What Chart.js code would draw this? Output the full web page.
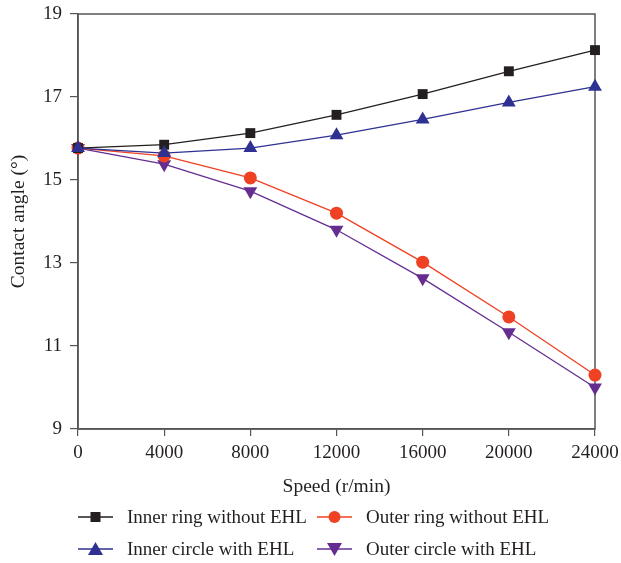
<!DOCTYPE html>
<html>
<head>
<meta charset="utf-8">
<script src="https://cdn.jsdelivr.net/npm/chart.js@4"></script>
<style>
  body { margin: 0; background: #fff; }
  #wrap { position: relative; width: 621px; height: 563px; }
  #legend {
    position: absolute; left: 78px; top: 501px; width: 540px;
    display: grid; grid-template-columns: 239px 300px; row-gap: 0px;
    font-family: "Liberation Serif", serif; font-size: 19px; color: #231f20;
  }
  .item { display: flex; align-items: center; height: 32px; white-space: nowrap; }
  .item svg { margin-right: 14px; flex: none; }
</style>
</head>
<body>
<div id="wrap">
  <canvas id="chart" width="621" height="563"></canvas>
  <div id="legend"></div>
</div>
<script>
// --- DATA ---
const speeds = [0, 4000, 8000, 12000, 16000, 20000, 24000];
const innerRingNoEHL = [15.77, 15.85, 16.13, 16.57, 17.07, 17.62, 18.13];
const outerRingNoEHL = [15.77, 15.58, 15.05, 14.2, 13.02, 11.7, 10.3];
const innerCircleEHL = [15.77, 15.65, 15.77, 16.08, 16.46, 16.87, 17.25];
const outerCircleEHL = [15.77, 15.38, 14.73, 13.8, 12.63, 11.33, 10.0];
const seriesNames = ['Inner ring without EHL', 'Outer ring without EHL', 'Inner circle with EHL', 'Outer circle with EHL'];
const xTicks = [0, 4000, 8000, 12000, 16000, 20000, 24000];
const yTicks = [9, 11, 13, 15, 17, 19];

const FONT = '"Liberation Serif", serif';
const TXT = '#231f20';

function pts(vals) { return speeds.map((s, i) => ({ x: s, y: vals[i] })); }

const styles = [
    { color: '#231f20', shape: 'rect', r: 7, rot: 0 },
    { color: '#ef4123', shape: 'circle', r: 6.5, rot: 0 },
    { color: '#2e3192', shape: 'triangle', r: 8, rot: 0 },
    { color: '#662d91', shape: 'triangle', r: 8, rot: 180 }
];
const allVals = [innerRingNoEHL, outerRingNoEHL, innerCircleEHL, outerCircleEHL];

const datasets = allVals.map((v, i) => ({
    label: seriesNames[i],
    data: pts(v),
    borderColor: styles[i].color,
    backgroundColor: styles[i].color,
    borderWidth: 1.3,
    pointStyle: styles[i].shape,
    pointRadius: styles[i].r,
    pointRotation: styles[i].rot,
    pointBorderWidth: 0,
    order: [2, 3, 1, 4][i],
    clip: false,
    tension: 0
}));

// frame around plot area
const boxPlugin = {
    id: 'box',
    beforeDatasetsDraw(chart) {
        const a = chart.chartArea, c = chart.ctx;
        c.save();
        c.strokeStyle = '#555';
        c.lineWidth = 1.5;
        c.strokeRect(a.left, a.top, a.right - a.left, a.bottom - a.top);
        c.restore();
    }
};

new Chart(document.getElementById('chart'), {
    type: 'line',
    data: { datasets: datasets },
    plugins: [boxPlugin],
    options: {
        responsive: false,
        animation: false,
        layout: { padding: { left: 4, right: 26, top: 14, bottom: 60 } },
        plugins: { legend: { display: false }, tooltip: { enabled: false } },
        scales: {
            x: {
                type: 'linear', min: 0, max: 24000,
                afterBuildTicks(s) { s.ticks = xTicks.map(v => ({ value: v })); },
                afterFit(s) { s.height = 74; s.paddingLeft = 0; s.paddingRight = 0; },
                grid: { drawOnChartArea: false, tickLength: 7, color: '#555', lineWidth: 1.2 },
                border: { color: '#555', width: 1.5 },
                ticks: { color: TXT, font: { family: FONT, size: 19 }, padding: 6, maxRotation: 0, callback: v => String(v) },
                title: { display: true, text: 'Speed (r/min)', color: TXT, font: { family: FONT, size: 19.5 }, padding: { top: 4, bottom: 4 } }
            },
            y: {
                min: 9, max: 19,
                afterBuildTicks(s) { s.ticks = yTicks.map(v => ({ value: v })); },
                afterFit(s) { s.width = 74; s.paddingTop = 0; s.paddingBottom = 0; },
                grid: { drawOnChartArea: false, tickLength: 8, color: '#555', lineWidth: 1.2 },
                border: { color: '#555', width: 1.5 },
                ticks: { color: TXT, font: { family: FONT, size: 19 }, padding: 8, callback: v => String(v) },
                title: { display: true, text: 'Contact angle (°)', color: TXT, font: { family: FONT, size: 19.5 }, padding: { top: 3, bottom: 4 } }
            }
        }
    }
});

// --- HTML legend ---
function markerSvg(st) {
    let m = '';
    if (st.shape === 'rect') m = `<rect x="12.5" y="4" width="10" height="10" fill="${st.color}"/>`;
    else if (st.shape === 'circle') m = `<circle cx="17.5" cy="9" r="6" fill="${st.color}"/>`;
    else if (st.rot === 0) m = `<polygon points="17.5,2 25,15 10,15" fill="${st.color}"/>`;
    else m = `<polygon points="10,3 25,3 17.5,16" fill="${st.color}"/>`;
    return `<svg width="35" height="18"><line x1="0" y1="9" x2="35" y2="9" stroke="${st.color}" stroke-width="1.5"/>${m}</svg>`;
}
const legend = document.getElementById('legend');
seriesNames.forEach((name, i) => {
    const d = document.createElement('div');
    d.className = 'item';
    d.innerHTML = markerSvg(styles[i]) + '<span>' + name + '</span>';
    legend.appendChild(d);
});
</script>
</body>
</html>
